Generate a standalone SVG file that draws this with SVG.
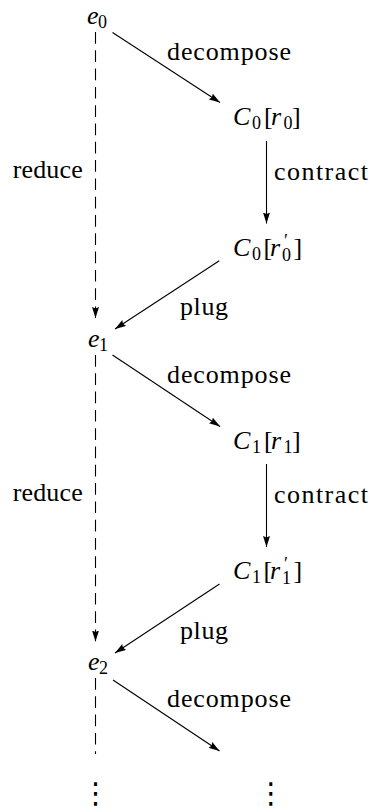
<svg xmlns="http://www.w3.org/2000/svg" width="370" height="810" viewBox="0 0 370 810">
<style>
text{font-family:'Liberation Serif','Times New Roman','DejaVu Serif',serif;fill:#000}
.lbl{font-size:26px}
.mi{font-size:26px;font-style:italic}
.rm{font-size:26px}
.sub{font-size:18px}
.e{stroke:#000;stroke-width:1.1;fill:none}
.dots{font-family:'DejaVu Serif','DejaVu Sans',serif;font-size:29px}
</style>
<defs>
<marker id="ah" markerUnits="userSpaceOnUse" markerWidth="12" markerHeight="8" refX="11" refY="3.5" orient="auto">
<path d="M0,0 L11,3.5 L0,7 L1.5,3.5 z" fill="#000"/>
</marker>
</defs>
<g id="connectors">
<line class="e" stroke-dasharray="11.7 6.6" x1="95.5" y1="32" x2="95.5" y2="318" marker-end="url(#ah)"/>
<line class="e" x1="112.5" y1="32.5" x2="220" y2="102.5" marker-end="url(#ah)"/>
<line class="e" x1="266.5" y1="141" x2="266.5" y2="223.5" marker-end="url(#ah)"/>
<line class="e" x1="219.3" y1="260.7" x2="115" y2="329" marker-end="url(#ah)"/>
<line class="e" stroke-dasharray="11.7 6.6" x1="95.5" y1="355" x2="95.5" y2="641.5" marker-end="url(#ah)"/>
<line class="e" x1="112.5" y1="355" x2="220" y2="426.5" marker-end="url(#ah)"/>
<line class="e" x1="266.5" y1="464" x2="266.5" y2="547" marker-end="url(#ah)"/>
<line class="e" x1="219.5" y1="584" x2="115" y2="653" marker-end="url(#ah)"/>
<line class="e" stroke-dasharray="11.7 6.6" x1="95.5" y1="678" x2="95.5" y2="754"/>
<line class="e" x1="113" y1="680" x2="219.5" y2="751" marker-end="url(#ah)"/>
<text class="lbl" x="167" y="60" textLength="124" lengthAdjust="spacing">decompose</text>
<text class="lbl" x="12.7" y="178" textLength="70" lengthAdjust="spacing">reduce</text>
<text class="lbl" x="274" y="180" textLength="94" lengthAdjust="spacing">contract</text>
<text class="lbl" x="180" y="315" textLength="48" lengthAdjust="spacing">plug</text>
<text class="lbl" x="167" y="383" textLength="124" lengthAdjust="spacing">decompose</text>
<text class="lbl" x="12.7" y="501" textLength="70" lengthAdjust="spacing">reduce</text>
<text class="lbl" x="274" y="503" textLength="94" lengthAdjust="spacing">contract</text>
<text class="lbl" x="180" y="639" textLength="48" lengthAdjust="spacing">plug</text>
<text class="lbl" x="167" y="707" textLength="124" lengthAdjust="spacing">decompose</text>
</g>
<g id="e0"><text><tspan class="mi" x="87" y="24">e</tspan><tspan class="sub" x="98" y="28">0</tspan></text></g>
<g id="C0r0"><text><tspan class="mi" x="233" y="125">C</tspan><tspan class="sub" x="252" y="129">0</tspan><tspan class="rm" x="264" y="125">[</tspan><tspan class="mi" x="271" y="125">r</tspan><tspan class="sub" x="283.5" y="129">0</tspan><tspan class="rm" x="292" y="125">]</tspan></text></g>
<g id="C0r0p"><text><tspan class="mi" x="233" y="256">C</tspan><tspan class="sub" x="252" y="260">0</tspan><tspan class="rm" x="263.5" y="256">[</tspan><tspan class="mi" x="270" y="256">r</tspan><tspan class="sub" x="284" y="247">′</tspan><tspan class="sub" x="282" y="261">0</tspan><tspan class="rm" x="293.5" y="256">]</tspan></text></g>
<g id="e1"><text><tspan class="mi" x="88" y="347">e</tspan><tspan class="sub" x="99" y="351">1</tspan></text></g>
<g id="C1r1"><text><tspan class="mi" x="233" y="449">C</tspan><tspan class="sub" x="252" y="453">1</tspan><tspan class="rm" x="264" y="449">[</tspan><tspan class="mi" x="271" y="449">r</tspan><tspan class="sub" x="283.5" y="453">1</tspan><tspan class="rm" x="292" y="449">]</tspan></text></g>
<g id="C1r1p"><text><tspan class="mi" x="233" y="579">C</tspan><tspan class="sub" x="252" y="583">1</tspan><tspan class="rm" x="263.5" y="579">[</tspan><tspan class="mi" x="270" y="579">r</tspan><tspan class="sub" x="284" y="570">′</tspan><tspan class="sub" x="282" y="584">1</tspan><tspan class="rm" x="293.5" y="579">]</tspan></text></g>
<g id="e2"><text><tspan class="mi" x="88" y="670">e</tspan><tspan class="sub" x="99" y="674">2</tspan></text></g>
<g id="dots-left"><text class="dots" x="95.5" y="803" text-anchor="middle">⋮</text></g>
<g id="dots-right"><text class="dots" x="270.7" y="803" text-anchor="middle">⋮</text></g>
</svg>
